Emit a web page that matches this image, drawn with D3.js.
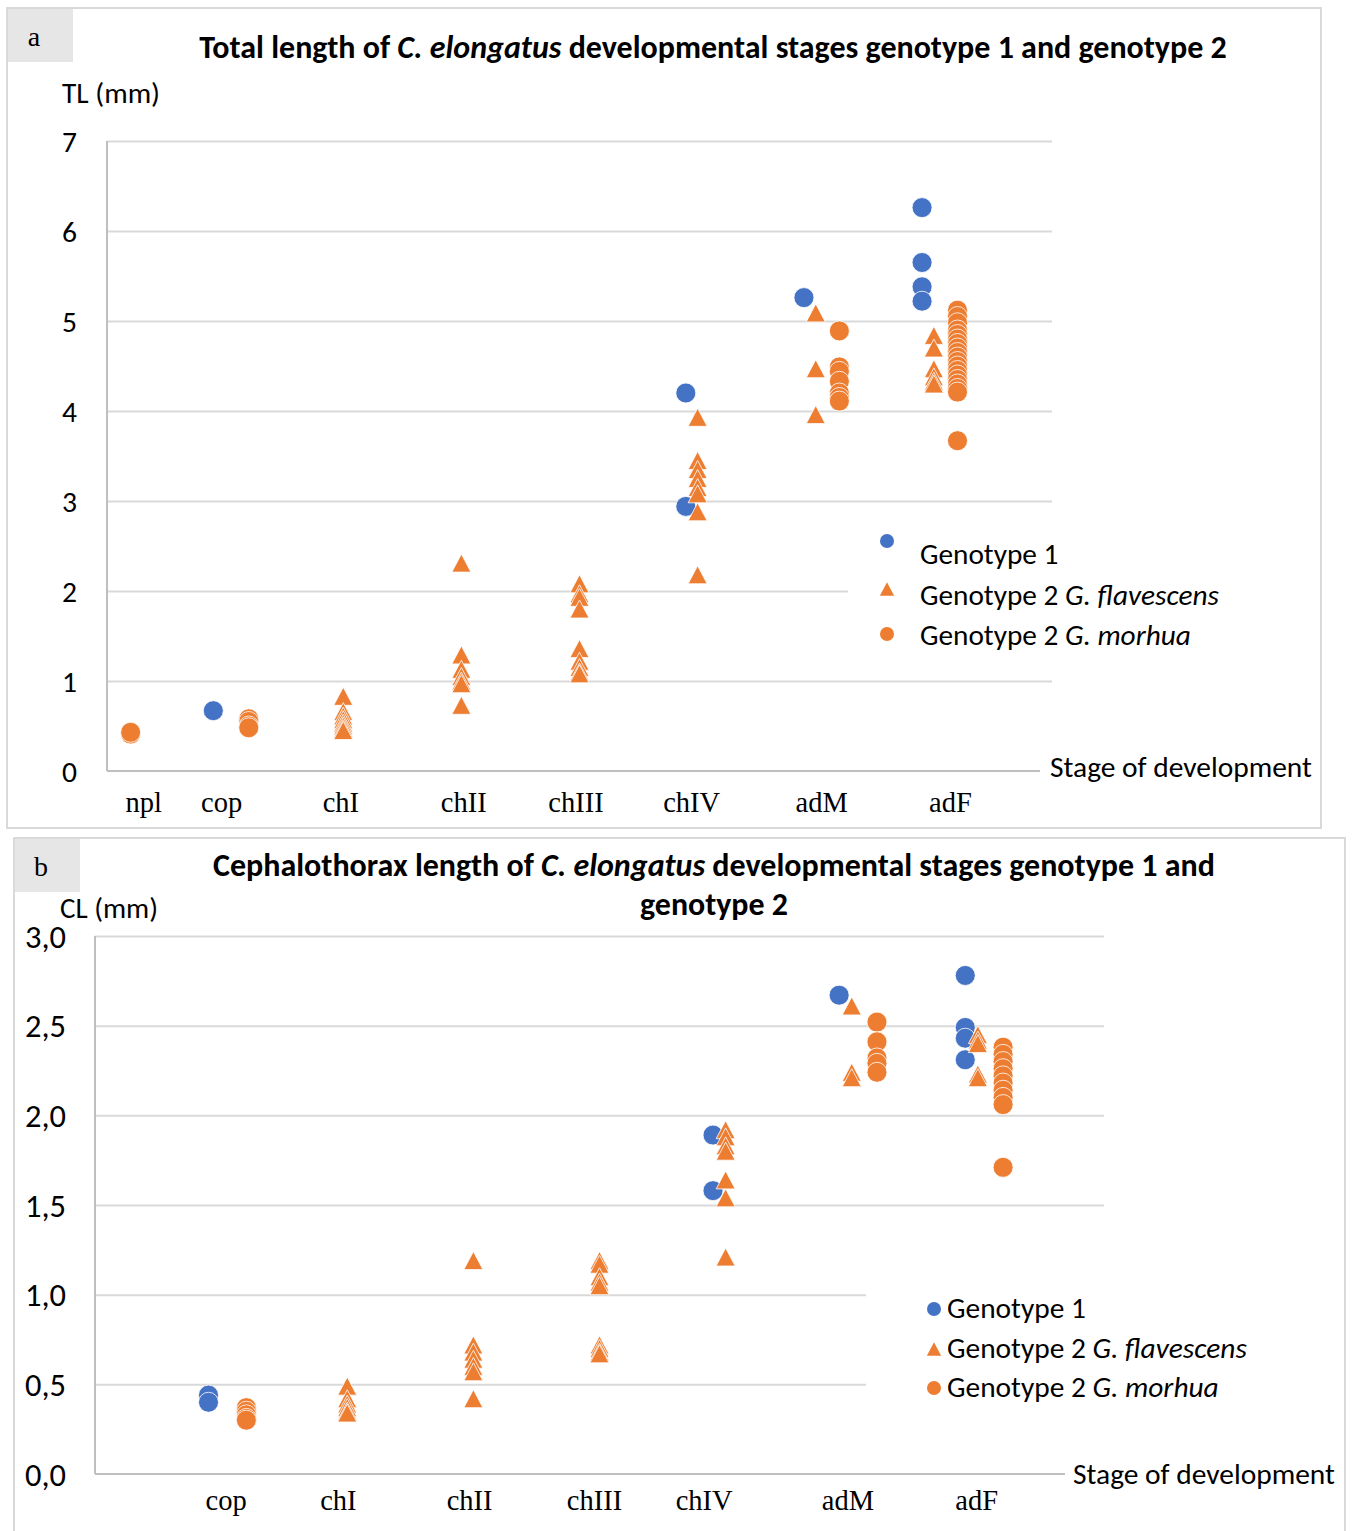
<!DOCTYPE html>
<html><head><meta charset="utf-8">
<script src="https://cdn.jsdelivr.net/npm/d3@7"></script>
<style>body{margin:0;background:#fff}svg{display:block}</style>
</head><body>
<svg id="chart" width="1353" height="1531"></svg>
<script>
// Stage names and where each name sits on the numeric stage axis
const stagesA = ["npl", "cop", "chI", "chII", "chIII", "chIV", "adM", "adF"];
const stageAtA = [0.31, 0.97, 1.98, 3.02, 3.97, 4.95, 6.05, 7.14];
const stagesB = ["cop", "chI", "chII", "chIII", "chIV", "adM", "adF"];
const stageAtB = [1.04, 1.93, 2.97, 3.96, 4.83, 5.97, 6.99];

const ticksA = [0, 1, 2, 3, 4, 5, 6, 7];
const ticksB = [0, 0.5, 1, 1.5, 2, 2.5, 3];

// Legend entries: plain part, italic part
const seriesNames = [["Genotype 1", ""], ["Genotype 2 ", "G. flavescens"], ["Genotype 2 ", "G. morhua"]];
const seriesColors = ["#4472C4", "#ED7D31", "#ED7D31"];

// Total length (mm): [stage position, TL]
const genotype1TL = [[0.9, 0.67], [4.9, 4.2], [4.9, 2.94], [5.9, 5.26],
  [6.9, 6.26], [6.9, 5.65], [6.9, 5.38], [6.9, 5.22]];
const flavescensTL = [
  [2, 0.83], [2, 0.66], [2, 0.61], [2, 0.57], [2, 0.53], [2, 0.5], [2, 0.47], [2, 0.45],
  [3, 2.31], [3, 1.29], [3, 1.13], [3, 1.05], [3, 1.0], [3, 0.97], [3, 0.73],
  [4, 2.08], [4, 1.97], [4, 1.93], [4, 1.8], [4, 1.36], [4, 1.22], [4, 1.15], [4, 1.1], [4, 1.08],
  [5, 3.93], [5, 3.45], [5, 3.35], [5, 3.25], [5, 3.15], [5, 3.08], [5, 2.88], [5, 2.18],
  [6, 5.09], [6, 4.47], [6, 3.96],
  [7, 4.84], [7, 4.7], [7, 4.47], [7, 4.38], [7, 4.33], [7, 4.3]];
const morhuaTL = [
  [0.2, 0.41], [0.2, 0.43],
  [1.2, 0.58], [1.2, 0.55], [1.2, 0.5], [1.2, 0.48],
  [6.2, 4.89], [6.2, 4.49], [6.2, 4.44], [6.2, 4.33], [6.2, 4.2], [6.2, 4.15], [6.2, 4.11],
  [7.2, 5.12], [7.2, 5.05], [7.2, 4.98], [7.2, 4.9], [7.2, 4.85], [7.2, 4.8], [7.2, 4.75],
  [7.2, 4.7], [7.2, 4.65], [7.2, 4.6], [7.2, 4.55], [7.2, 4.5], [7.2, 4.45], [7.2, 4.4],
  [7.2, 4.35], [7.2, 4.3], [7.2, 4.25], [7.2, 4.21], [7.2, 3.67]];

// Cephalothorax length (mm): [stage position, CL]
const genotype1CL = [[0.9, 0.44], [0.9, 0.40], [4.9, 1.89], [4.9, 1.58], [5.9, 2.67],
  [6.9, 2.78], [6.9, 2.49], [6.9, 2.43], [6.9, 2.31]];
const flavescensCL = [
  [2, 0.49], [2, 0.42], [2, 0.39], [2, 0.37], [2, 0.35], [2, 0.34],
  [3, 1.19], [3, 0.72], [3, 0.68], [3, 0.64], [3, 0.6], [3, 0.57], [3, 0.42],
  [4, 1.19], [4, 1.17], [4, 1.1], [4, 1.07], [4, 1.05], [4, 0.72], [4, 0.7], [4, 0.68], [4, 0.67],
  [5, 1.92], [5, 1.88], [5, 1.83], [5, 1.8], [5, 1.64], [5, 1.54], [5, 1.21],
  [6, 2.61], [6, 2.24], [6, 2.21],
  [7, 2.45], [7, 2.42], [7, 2.4], [7, 2.23], [7, 2.21]];
const morhuaCL = [
  [1.2, 0.37], [1.2, 0.35], [1.2, 0.33], [1.2, 0.31], [1.2, 0.3],
  [6.2, 2.52], [6.2, 2.41], [6.2, 2.32], [6.2, 2.29], [6.2, 2.24],
  [7.2, 2.38], [7.2, 2.34], [7.2, 2.3], [7.2, 2.26], [7.2, 2.22], [7.2, 2.18],
  [7.2, 2.14], [7.2, 2.1], [7.2, 2.06], [7.2, 1.71]];

const SANS = "Carlito, Calibri, Lato, 'Open Sans', sans-serif";
const SERIF = "'Liberation Serif', 'Times New Roman', serif";
const svg = d3.select("#chart");

// scale a text's font size so it spans the given width
function fit(sel, width) {
  const w = sel.node().getComputedTextLength();
  const fs = parseFloat(sel.attr("font-size"));
  sel.attr("font-size", (fs * width / w).toFixed(2));
  return fs * width / w;
}
function triPath(w, h) {
  return `M0,${-h / 2}L${w / 2},${h / 2}L${-w / 2},${h / 2}Z`;
}
function addMarker(g, kind, x, y, color, size) {
  if (kind === "tri") {
    g.append("path").attr("d", triPath(size * 1.02, size * 0.95))
      .attr("transform", `translate(${x},${y})`).attr("fill", color);
  } else {
    g.append("circle").attr("cx", x).attr("cy", y).attr("r", size / 2).attr("fill", color);
  }
}

function drawPanel(p) {
  const g = svg.append("g");
  // frame and panel tag
  g.append("rect").attr("x", p.frame[0]).attr("y", p.frame[1]).attr("width", p.frame[2]).attr("height", p.frame[3])
    .attr("fill", "#fff").attr("stroke", "#d9d9d9").attr("stroke-width", 2);
  g.append("rect").attr("x", p.tag[0]).attr("y", p.tag[1]).attr("width", 65).attr("height", 53).attr("fill", "#e7e6e6");
  g.append("text").attr("x", p.tag[0] + 26).attr("y", p.tag[1] + 37).attr("text-anchor", "middle")
    .attr("font-family", SERIF).attr("font-size", 28).attr("fill", "#000").text(p.tagText);

  const x = d3.scaleLinear().domain([0, 8]).range([p.left, p.right]);
  const y = d3.scaleLinear().domain(p.yDomain).range([p.bottom, p.top]);

  // horizontal gridlines
  const grid = g.append("g").attr("transform", `translate(${p.left},0)`)
    .call(d3.axisRight(y).tickValues(p.ticks.filter(t => t > 0)).tickSize(p.right - p.left).tickFormat(""));
  grid.select(".domain").remove();
  grid.selectAll("line").attr("stroke", "#d9d9d9").attr("stroke-width", 2);

  // tick labels, sized so the top label spans its measured width
  const tl = g.append("g").selectAll("text").data(p.ticks).join("text")
    .attr("x", p.tickRight).attr("y", d => y(d)).attr("dy", "0.36em").attr("text-anchor", "end")
    .attr("font-family", SANS).attr("font-size", 28).attr("fill", "#000")
    .text(d => p.tickFmt(d));
  const tfs = fit(d3.select(tl.nodes()[tl.size() - 1]), p.tickW);
  tl.attr("font-size", tfs);

  // axis lines
  g.append("line").attr("x1", p.left).attr("x2", p.left).attr("y1", p.top).attr("y2", p.bottom)
    .attr("stroke", "#bfbfbf").attr("stroke-width", 2);
  g.append("line").attr("x1", p.left).attr("x2", p.axisEnd).attr("y1", p.bottom).attr("y2", p.bottom)
    .attr("stroke", "#bfbfbf").attr("stroke-width", 2);

  // stage labels
  g.append("g").selectAll("text").data(p.stages).join("text")
    .attr("x", (d, i) => x(p.stageAt[i])).attr("y", p.stageY).attr("text-anchor", "middle")
    .attr("font-family", SERIF).attr("font-size", 28.5).attr("fill", "#000").text(d => d);

  // titles
  p.title.forEach((line, i) => {
    const t = g.append("text").attr("x", p.titleX).attr("y", p.titleY[i]).attr("text-anchor", "middle")
      .attr("font-family", SANS).attr("font-weight", "bold").attr("font-size", 26).attr("fill", "#000");
    line.forEach(([s, it]) => t.append("tspan").attr("font-style", it ? "italic" : "normal").text(s));
    fit(t, p.titleW[i]);
  });
  const yt = g.append("text").attr("x", p.yTitle[0]).attr("y", p.yTitle[1]).attr("font-family", SANS)
    .attr("font-size", 25).attr("fill", "#000").text(p.yTitleText);
  fit(yt, 98);
  const xt = g.append("text").attr("x", p.xTitle[0]).attr("y", p.xTitle[1]).attr("font-family", SANS)
    .attr("font-size", 25).attr("fill", "#000").text("Stage of development");
  fit(xt, 262);

  // legend area
  g.append("rect").attr("x", p.legBox[0]).attr("y", p.legBox[1]).attr("width", p.legBox[2]).attr("height", p.legBox[3]).attr("fill", "#fff");
  const kinds = ["dot", "tri", "dot"];
  const legTexts = [];
  seriesNames.forEach((nm, i) => {
    addMarker(g, kinds[i], p.legMarkX, p.legMarkY[i], seriesColors[i], p.legMarkSize);
    const t = g.append("text").attr("x", p.legTextX).attr("y", p.legTextY[i]).attr("font-family", SANS)
      .attr("font-size", 25).attr("fill", "#000");
    t.append("tspan").text(nm[0]);
    if (nm[1]) t.append("tspan").attr("font-style", "italic").text(nm[1]);
    legTexts.push(t);
  });
  const lfs = fit(legTexts[1], p.legW);
  legTexts.forEach(t => t.attr("font-size", lfs));

  // data marks
  const marks = g.append("g");
  p.series.forEach((pts, i) => {
    pts.forEach(([sx, v]) => {
      if (kinds[i] === "tri") {
        marks.append("path").attr("d", triPath(19, 18)).attr("transform", `translate(${x(sx)},${y(v)})`)
          .attr("fill", seriesColors[i]).attr("stroke", "#fff").attr("stroke-width", 0.8);
      } else {
        marks.append("circle").attr("cx", x(sx)).attr("cy", y(v)).attr("r", 10)
          .attr("fill", seriesColors[i]).attr("stroke", "#fff").attr("stroke-width", 0.8);
      }
    });
  });
}

drawPanel({
  frame: [7, 8, 1314, 820], tag: [8, 9], tagText: "a",
  left: 107, right: 1052, top: 141, bottom: 771, axisEnd: 1040,
  yDomain: [0, 7], ticks: ticksA, tickFmt: d3.format("d"), tickRight: 77, tickW: 15,
  stages: stagesA, stageAt: stageAtA, stageY: 812,
  title: [[["Total length of ", 0], ["C. elongatus", 1], [" developmental stages genotype 1 and genotype 2", 0]]],
  titleX: 713, titleY: [58], titleW: [1028],
  yTitle: [62, 103], yTitleText: "TL (mm)", xTitle: [1050, 777],
  legBox: [848, 520, 470, 142], legMarkX: 887, legMarkY: [541, 589, 634], legMarkSize: 14,
  legTextX: 920, legTextY: [564, 605, 645], legW: 299,
  series: [genotype1TL, flavescensTL, morhuaTL]
});

drawPanel({
  frame: [14, 838, 1331, 720], tag: [15, 839], tagText: "b",
  left: 95, right: 1104, top: 936, bottom: 1474, axisEnd: 1065,
  yDomain: [0, 3], ticks: ticksB, tickFmt: d => d3.format(".1f")(d).replace(".", ","), tickRight: 66, tickW: 41,
  stages: stagesB, stageAt: stageAtB, stageY: 1510,
  title: [[["Cephalothorax length of ", 0], ["C. elongatus", 1], [" developmental stages genotype 1 and", 0]],
          [["genotype 2", 0]]],
  titleX: 714, titleY: [876, 915], titleW: [1002, 148],
  yTitle: [60, 918], yTitleText: "CL (mm)", xTitle: [1073, 1484],
  legBox: [866, 1282, 470, 140], legMarkX: 934, legMarkY: [1309, 1349, 1388], legMarkSize: 14,
  legTextX: 947, legTextY: [1318, 1358, 1397], legW: 300,
  series: [genotype1CL, flavescensCL, morhuaCL]
});
</script>
</body></html>
